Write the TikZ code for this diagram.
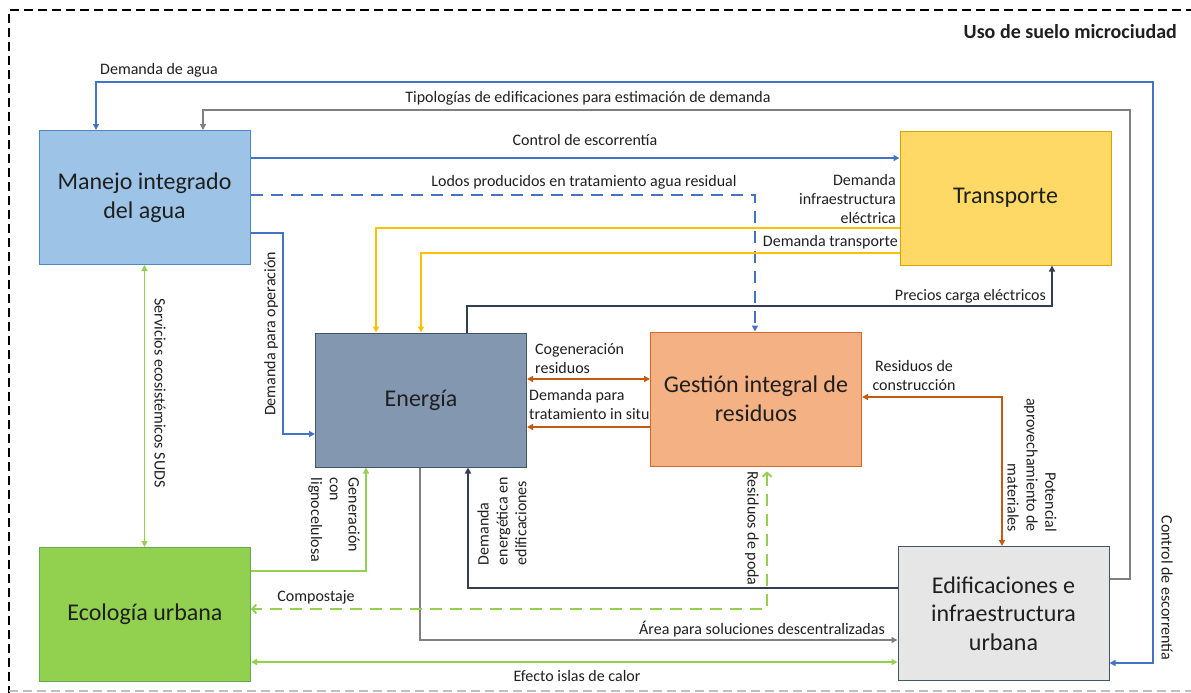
\documentclass[tikz,border=0pt]{standalone}
\usepackage{fontspec}
\setmainfont{Carlito}
\usetikzlibrary{arrows.meta}
\definecolor{mfill}{HTML}{9DC3E6}\definecolor{mdraw}{HTML}{4F86C6}
\definecolor{tfill}{HTML}{FFD966}\definecolor{tdraw}{HTML}{D9A400}
\definecolor{efill}{HTML}{8497B0}\definecolor{edraw}{HTML}{44546A}
\definecolor{gfill}{HTML}{F4B183}\definecolor{gdraw}{HTML}{D06A2A}
\definecolor{ecfill}{HTML}{92D050}\definecolor{ecdraw}{HTML}{6AA84F}
\definecolor{edfill}{HTML}{E7E6E6}\definecolor{eddraw}{HTML}{44546A}
\definecolor{cblue}{HTML}{4472C4}
\definecolor{cgray}{HTML}{7F7F7F}
\definecolor{cyellow}{HTML}{FFC000}
\definecolor{cdark}{HTML}{333F50}
\definecolor{corange}{HTML}{C55A11}
\definecolor{cgreen}{HTML}{92D050}
\definecolor{txt}{HTML}{1F1F1F}
\tikzset{
  box/.style={draw, line width=1pt, minimum width=211pt, minimum height=134pt,
    font=\fontsize{24}{28.5}\selectfont, align=center, inner sep=0pt, text=txt},
  lbl/.style={font=\fontsize{16}{18.8}\selectfont, inner sep=0pt, text=txt},
  con/.style={line width=1.9pt},
  tip/.style={-{Triangle[length=6pt,width=6pt]}},
  tiptwo/.style={{Triangle[length=6pt,width=6pt]}-{Triangle[length=6pt,width=6pt]}},
  chevtwo/.style={{Straight Barb[length=4pt,width=9pt]}-{Straight Barb[length=4pt,width=9pt]}},
  dashline/.style={dash pattern=on 12pt off 8pt},
}
\begin{document}
\begin{tikzpicture}[x=1pt,y=-1pt]
\useasboundingbox (0,0) rectangle (1191,693);
% outer frame
\draw[line width=2.2pt, dash pattern=on 9pt off 5pt] (1195,10) -- (9,10) -- (9,700);
\draw[black!25, line width=1.4pt, dash pattern=on 9pt off 5pt] (9,691) -- (1195,691);
\node[font=\bfseries\fontsize{20}{24}\selectfont, anchor=east, inner sep=0pt, text=txt] (title) at (1177,32) {Uso de suelo microciudad};

% boxes
\node[box, fill=mfill, draw=mdraw] (manejo) at (144.5,197.5) {Manejo integrado\\del agua};
\node[box, fill=tfill, draw=tdraw] (transporte) at (1005.5,198) {Transporte};
\node[box, fill=efill, draw=edraw] (energia) at (421,400) {Energía};
\node[box, fill=gfill, draw=gdraw] (gestion) at (756,399) {Gestión integral de\\residuos};
\node[box, fill=ecfill, draw=ecdraw] (ecologia) at (145,614.5) {Ecología urbana};
\node[box, fill=edfill, draw=eddraw] (edif) at (1003.5,613.5) {Edificaciones e\\infraestructura\\urbana};

% turning points
\coordinate (a1) at (96,82);
\coordinate (a2) at (1153,82);
\coordinate (a3) at (1153,663);
\coordinate (b1) at (203,110);
\coordinate (b2) at (1130,110);
\coordinate (b3) at (1130,579);
\coordinate (c1) at (0,158);
\coordinate (d1) at (755,195);
\coordinate (e1) at (376,228);
\coordinate (e2) at (421,253);
\coordinate (f1) at (283,233);
\coordinate (f2) at (283,434);
\coordinate (g1) at (467,306);
\coordinate (g2) at (1052,306);
\coordinate (h1) at (0,379);
\coordinate (i1) at (0,427);
\coordinate (j1) at (1002,397);
\coordinate (k1) at (468,588);
\coordinate (l1) at (420,640);
\coordinate (m1) at (366,571);
\coordinate (o1) at (767,609);
\coordinate (p1) at (0,662);

% A: Demanda de agua / Control de escorrentia
\draw[con, cblue, tiptwo] (manejo.north -| a1) -- (a1) -- (a2) -- (a3) -- (edif.east |- a3);
\node[lbl, anchor=west] (lA) at (100,70) {Demanda de agua};
\node[lbl, rotate=-90] (lA2) at (1167,588) {Control de escorrentía};

% B: Tipologias
\draw[con, cgray, tip] (edif.east |- b3) -- (b3) -- (b2) -- (b1) -- (manejo.north -| b1);
\node[lbl] (lB) at (588,98) {Tipologías de edificaciones para estimación de demanda};

% C: Control de escorrentia
\draw[con, cblue, tip] (manejo.east |- c1) -- (transporte.west |- c1);
\node[lbl] (lC) at (585,140) {Control de escorrentía};

% D: Lodos
\draw[con, cblue, dashline, tip] (manejo.east |- d1) -- (d1) -- (gestion.north -| d1);
\node[lbl] (lD) at (584,182) {Lodos producidos en tratamiento agua residual};

% E: yellow
\draw[con, cyellow, tip] (transporte.west |- e1) -- (e1) -- (energia.north -| e1);
\draw[con, cyellow, tip] (transporte.west |- e2) -- (e2) -- (energia.north -| e2);
\node[lbl, align=right, anchor=east] (lE1) at (896,199) {Demanda\\infraestructura\\eléctrica};
\node[lbl, anchor=east] (lE2) at (898,242) {Demanda transporte};

% F: Demanda para operacion
\draw[con, cblue, tip] (manejo.east |- f1) -- (f1) -- (f2) -- (energia.west |- f2);
\node[lbl, rotate=90] (lF) at (271,334) {Demanda para operación};

% G: Precios carga electricos
\draw[con, cdark, tip] (energia.north -| g1) -- (g1) -- (g2) -- (transporte.south -| g2);
\node[lbl, anchor=east] (lG) at (1046,296) {Precios carga eléctricos};

% H: Cogeneracion
\draw[con, corange, tiptwo] (energia.east |- h1) -- (gestion.west |- h1);
\node[lbl, align=left, anchor=west] (lH) at (535,358.5) {Cogeneración\\residuos};

% I: Demanda para tratamiento
\draw[con, corange, tip] (gestion.west |- i1) -- (energia.east |- i1);
\node[lbl, align=left, anchor=west] (lI) at (529,404.5) {Demanda para\\tratamiento in situ};

% J: Residuos de construccion
\draw[con, corange, tiptwo] (gestion.east |- j1) -- (j1) -- (edif.north -| j1);
\node[lbl, align=center] (lJ) at (914,375.5) {Residuos de\\construcción};
\node[lbl, align=right, rotate=-90] (lJ2) at (1032,465) {Potencial\\aprovechamiento de\\materiales};

% K: Demanda energetica
\draw[con, cdark, tip] (edif.west |- k1) -- (k1) -- (energia.south -| k1);
\node[lbl, align=left, rotate=90] (lK) at (502,521) {Demanda\\energética en\\edificaciones};

% L: Area para soluciones
\draw[con, cgray, tip] (energia.south -| l1) -- (l1) -- (edif.west |- l1);
\node[lbl, anchor=east] (lL) at (885,629) {Área para soluciones descentralizadas};

% M: Generacion con lignocelulosa
\draw[con, cgreen, tip] (ecologia.east |- m1) -- (m1) -- (energia.south -| m1);
\node[lbl, align=left, rotate=-90] (lM) at (334,520) {Generación\\con\\lignocelulosa};

% N: Servicios ecosistemicos
\draw[con, cgreen, tiptwo] (manejo.south) -- (manejo.south |- ecologia.north);
\node[lbl, rotate=-90] (lN) at (160,393) {Servicios ecosistémicos SUDS};

% O: Compostaje / Residuos de poda
\draw[con, cgreen, dashline, chevtwo, shorten <=5pt] (gestion.south -| o1) -- (o1) -- (ecologia.east |- o1);
\node[lbl] (lO) at (316,597) {Compostaje};
\node[lbl, rotate=-90] (lO2) at (752,528.5) {Residuos de poda};

% P: Efecto islas de calor
\draw[con, cgreen, tiptwo] (ecologia.east |- p1) -- (edif.west |- p1);
\node[lbl] (lP) at (577,676) {Efecto islas de calor};
\end{tikzpicture}
\end{document}
